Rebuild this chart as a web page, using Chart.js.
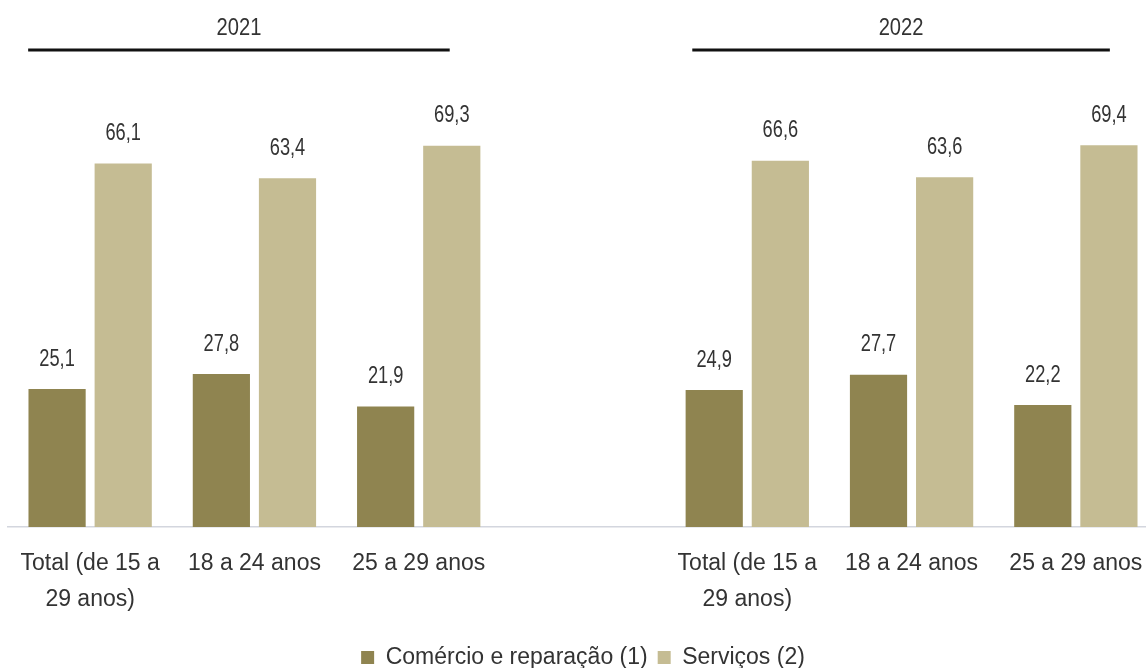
<!DOCTYPE html>
<html lang="pt-BR">
<head>
<meta charset="utf-8">
<title>Comércio e reparação / Serviços - 2021 e 2022</title>
<script src="https://cdn.jsdelivr.net/npm/chart.js@4/dist/chart.umd.min.js"></script>
<style>
  html, body { margin: 0; padding: 0; background: #fff; overflow: hidden; }
  #wrap { width: 1146px; height: 668px; overflow: hidden; }
  canvas { display: block; }
</style>
</head>
<body>
<div id="wrap"><canvas id="grafico" width="1160" height="679"></canvas></div>
<script>
// --- Dados ---
const anos = ['2021', '2022'];
const categorias = [['Total (de 15 a', '29 anos)'], '18 a 24 anos', '25 a 29 anos'];
const comercio2021 = [25.1, 27.8, 21.9];
const comercio2022 = [24.9, 27.7, 22.2];
const servicos2021 = [66.1, 63.4, 69.3];
const servicos2022 = [66.6, 63.6, 69.4];
const series = ['Comércio e reparação (1)', 'Serviços (2)'];

const FONTE = '"Liberation Sans", Arial, sans-serif';
const COR_TEXTO = '#333333';

// categoria vazia separa os dois anos
const rotulos = [...categorias, '', ...categorias];

function formatar(v) {
  return v.toFixed(1).replace('.', ',');
}

// texto estreito: fonte normal comprimida na horizontal
function textoEstreito(ctx, txt, x, y, escala) {
  ctx.save();
  ctx.translate(x, y);
  ctx.scale(escala, 1);
  ctx.fillText(txt, 0, 0);
  ctx.restore();
}

// --- Valores acima das barras ---
const valoresPlugin = {
  id: 'valores',
  afterDatasetsDraw(chart) {
    const ctx = chart.ctx;
    ctx.save();
    ctx.font = '24px ' + FONTE;
    ctx.fillStyle = COR_TEXTO;
    ctx.textAlign = 'center';
    ctx.textBaseline = 'middle';
    chart.data.datasets.forEach((ds, i) => {
      chart.getDatasetMeta(i).data.forEach((bar, j) => {
        const v = ds.data[j];
        if (v == null) return;
        textoEstreito(ctx, formatar(v), bar.x, bar.y - 30, 0.76);
      });
    });
    ctx.restore();
  }
};

// --- Cabeçalho de cada ano (texto + traço) ---
const anosPlugin = {
  id: 'anos',
  afterDraw(chart) {
    const x = chart.scales.x;
    const ctx = chart.ctx;
    const grupos = [
      { texto: anos[0], ini: x.getPixelForValue(0) - 62, fim: x.getPixelForValue(2) + 31 },
      { texto: anos[1], ini: x.getPixelForValue(4) - 55, fim: x.getPixelForValue(6) + 34 }
    ];
    ctx.save();
    grupos.forEach(g => {
      ctx.strokeStyle = '#111';
      ctx.lineWidth = 3;
      ctx.beginPath();
      ctx.moveTo(g.ini, 50);
      ctx.lineTo(g.fim, 50);
      ctx.stroke();
      ctx.font = '24px ' + FONTE;
      ctx.fillStyle = COR_TEXTO;
      ctx.textAlign = 'center';
      ctx.textBaseline = 'middle';
      textoEstreito(ctx, g.texto, (g.ini + g.fim) / 2, 28, 0.84);
    });
    ctx.restore();
  }
};

new Chart(document.getElementById('grafico'), {
  type: 'bar',
  data: {
    labels: rotulos,
    datasets: [
      {
        label: series[0],
        data: [...comercio2021, null, ...comercio2022],
        backgroundColor: '#8F8450'
      },
      {
        label: series[1],
        data: [...servicos2021, null, ...servicos2022],
        backgroundColor: '#C5BC93'
      }
    ]
  },
  options: {
    responsive: false,
    animation: false,
    categoryPercentage: 0.805,
    barPercentage: 0.865,
    layout: { padding: { left: 8, right: 2, top: 87, bottom: 0 } },
    plugins: {
      legend: {
        position: 'bottom',
        labels: {
          boxWidth: 13,
          boxHeight: 13,
          padding: 10,
          color: COR_TEXTO,
          font: { family: FONTE, size: 23, lineHeight: 1 }
        }
      },
      tooltip: { enabled: false }
    },
    scales: {
      x: {
        grid: { display: false },
        border: { display: true, color: '#d3d6de', width: 1.5 },
        ticks: {
          color: COR_TEXTO,
          padding: 11,
          maxRotation: 0,
          autoSkip: false,
          font: { family: FONTE, size: 23, lineHeight: 1.565 }
        },
        // espaço fixo entre a linha de base e a legenda
        afterFit(scale) { scale.height = 109; }
      },
      y: { display: false, min: 0, max: 80 }
    }
  },
  plugins: [valoresPlugin, anosPlugin]
});
</script>
</body>
</html>
